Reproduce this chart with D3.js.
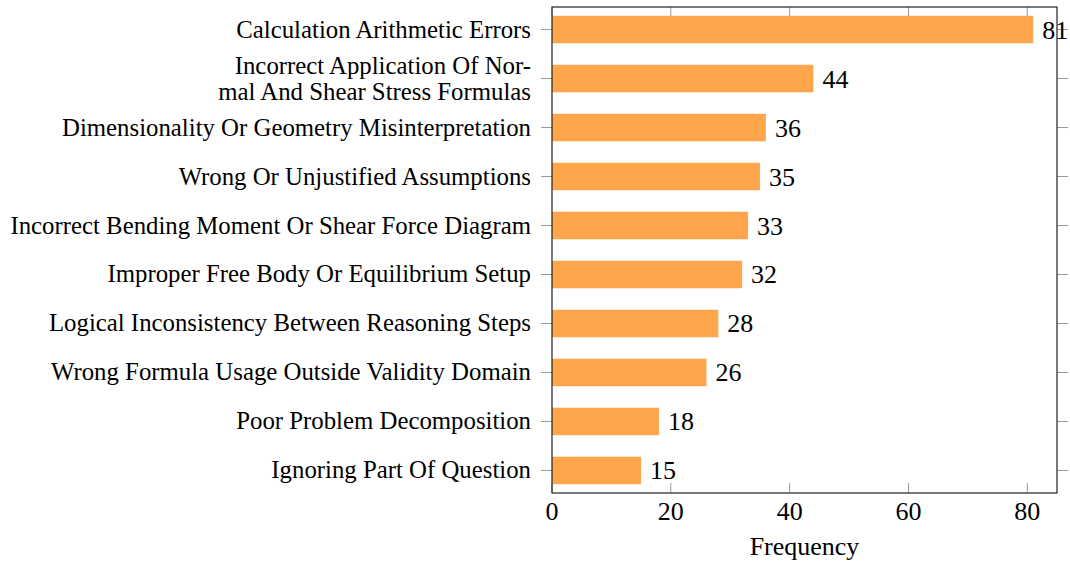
<!DOCTYPE html>
<html>
<head>
<meta charset="utf-8">
<script src="https://cdn.jsdelivr.net/npm/d3@7"></script>
<style>
  body { margin: 0; background: #fff; }
  text { font-family: "Liberation Serif", "Times New Roman", serif; fill: #000; }
</style>
</head>
<body>
<script>
// categories, top to bottom (each entry is a list of label lines)
var categories = [
  ["Calculation Arithmetic Errors"],
  ["Incorrect Application Of Nor-", "mal And Shear Stress Formulas"],
  ["Dimensionality Or Geometry Misinterpretation"],
  ["Wrong Or Unjustified Assumptions"],
  ["Incorrect Bending Moment Or Shear Force Diagram"],
  ["Improper Free Body Or Equilibrium Setup"],
  ["Logical Inconsistency Between Reasoning Steps"],
  ["Wrong Formula Usage Outside Validity Domain"],
  ["Poor Problem Decomposition"],
  ["Ignoring Part Of Question"]
];
var values = [81, 44, 36, 35, 33, 32, 28, 26, 18, 15];
var xTicks = [0, 20, 40, 60, 80];

var width = 1070, height = 563;
// plot box edges (note: "top" is taken by window.top)
var pLeft = 552, pRight = 1057, pTop = 7, pBottom = 493;

var svg = d3.select('body').append('svg')
  .attr('width', width)
  .attr('height', height);

// x scale, upper limit enlarged a bit like pgfplots does
var x = d3.scaleLinear()
  .domain([0, 85])
  .range([pLeft, pRight]);

// y uses the category index, padded a bit at each end
var y = d3.scaleLinear()
  .domain([-0.46, categories.length - 1 + 0.46])
  .range([pTop, pBottom]);

var barH = 27.5;

// y ticks, outside on both sides
svg.append('g').selectAll('line')
  .data(values).enter().append('line')
  .attr('x1', pLeft - 11).attr('x2', pLeft)
  .attr('y1', function(d, i) { return y(i); })
  .attr('y2', function(d, i) { return y(i); })
  .attr('stroke', '#999').attr('stroke-width', 1);
svg.append('g').selectAll('line')
  .data(values).enter().append('line')
  .attr('x1', pRight).attr('x2', pRight + 11)
  .attr('y1', function(d, i) { return y(i); })
  .attr('y2', function(d, i) { return y(i); })
  .attr('stroke', '#999').attr('stroke-width', 1);

// x ticks, inside at top and bottom
svg.append('g').selectAll('line')
  .data(xTicks).enter().append('line')
  .attr('x1', x).attr('x2', x)
  .attr('y1', pBottom).attr('y2', pBottom - 10)
  .attr('stroke', '#999');
svg.append('g').selectAll('line')
  .data(xTicks).enter().append('line')
  .attr('x1', x).attr('x2', x)
  .attr('y1', pTop).attr('y2', pTop + 10)
  .attr('stroke', '#999');

// bars
svg.append('g').selectAll('rect')
  .data(values).enter().append('rect')
  .attr('x', x(0))
  .attr('y', function(d, i) { return y(i) - barH / 2; })
  .attr('width', function(d) { return x(d) - x(0); })
  .attr('height', barH)
  .attr('fill', '#ffa64d');

// frame
svg.append('rect')
  .attr('x', pLeft).attr('y', pTop)
  .attr('width', pRight - pLeft).attr('height', pBottom - pTop)
  .attr('fill', 'none').attr('stroke', '#222').attr('stroke-width', 1.2);

// value labels
svg.append('g').selectAll('text')
  .data(values).enter().append('text')
  .attr('x', function(d) { return x(d) + 9; })
  .attr('y', function(d, i) { return y(i) + 9; })
  .style('font-size', '26px')
  .text(function(d) { return d; });

// category labels
var cat = svg.append('g').selectAll('text')
  .data(categories).enter().append('text')
  .attr('text-anchor', 'end')
  .style('font-size', '24.8px')
  .attr('transform', function(d, i) {
    return 'translate(531,' + (y(i) + 8 - (d.length - 1) * 13) + ')';
  });
cat.selectAll('tspan')
  .data(function(d) { return d; }).enter().append('tspan')
  .attr('x', 0)
  .attr('dy', function(d, j) { return j ? 26 : 0; })
  .text(function(d) { return d; });

// x tick labels
svg.append('g').selectAll('text')
  .data(xTicks).enter().append('text')
  .attr('x', x)
  .attr('y', 520)
  .attr('text-anchor', 'middle')
  .style('font-size', '26px')
  .text(function(d) { return d; });

// axis title
svg.append('text')
  .attr('x', (pLeft + pRight) / 2)
  .attr('y', 555)
  .attr('text-anchor', 'middle')
  .style('font-size', '26px')
  .text('Frequency');
</script>
</body>
</html>
